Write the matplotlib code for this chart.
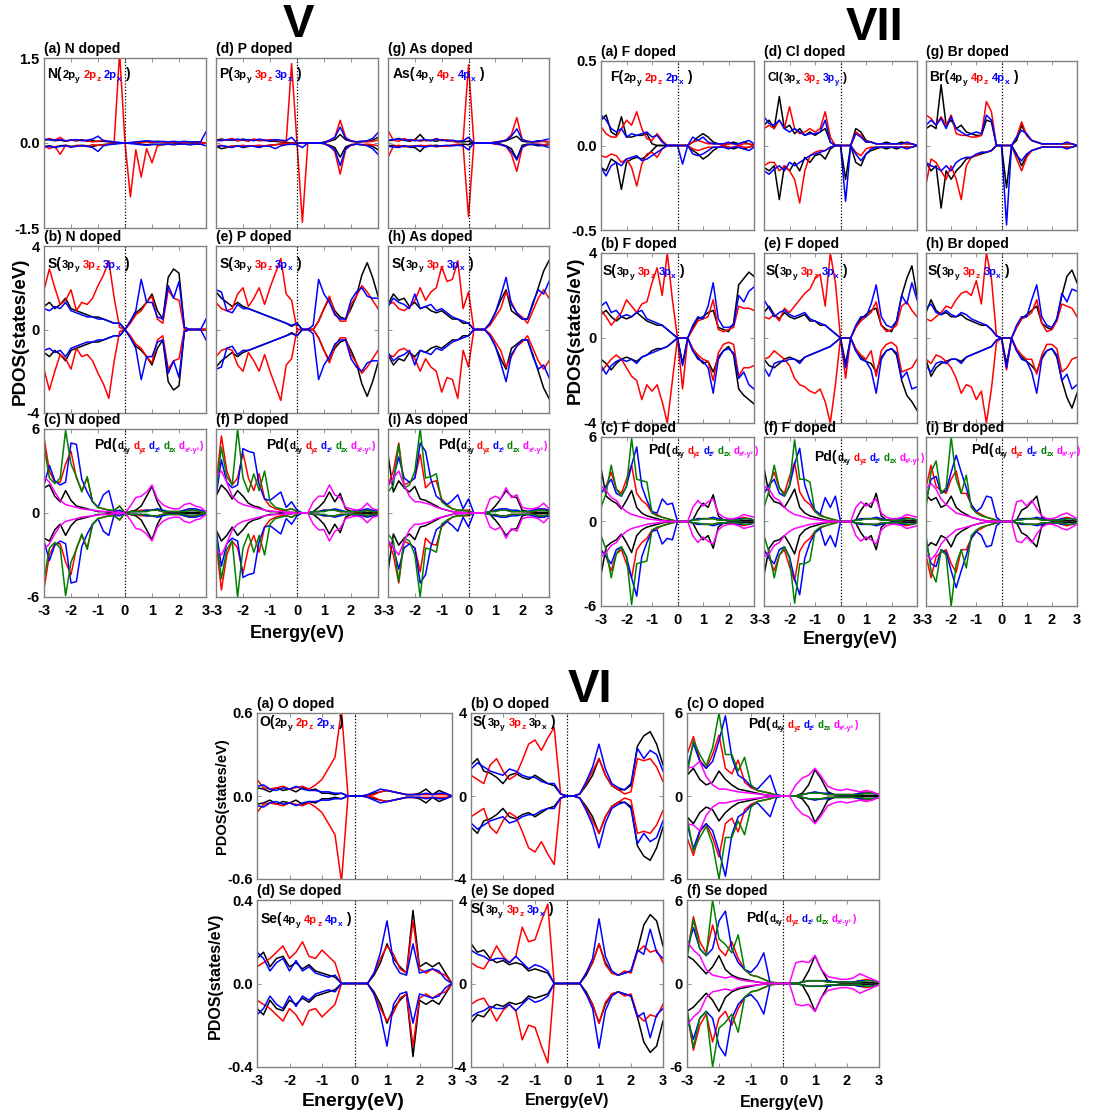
import matplotlib
matplotlib.use("Agg")
import matplotlib.pyplot as plt
from matplotlib.transforms import offset_copy

plt.rcParams['font.family'] = ['Liberation Sans Narrow', 'Liberation Sans', 'DejaVu Sans']
plt.rcParams['font.weight'] = 'bold'

# --- Data: energy grid (eV) and PDOS ---
E = [-3.0, -2.8, -2.6, -2.4, -2.2, -2.0, -1.8, -1.6, -1.4, -1.2, -1.0, -0.8, -0.6, -0.4, -0.2,
     0.0, 0.2, 0.4, 0.6, 0.8, 1.0, 1.2, 1.4, 1.6, 1.8, 2.0, 2.2, 2.4, 2.6, 2.8, 3.0]

# group V, dopant p states (black py, red pz, blue px), spin up / spin down
n_p_up = [
    [.05,.06,.04,.05,.03,.05,.04,.06,.03,.04,.03,.03,.02,.01,0,0,0,0,.02,.03,.02,.03,.02,.02,.01,.02,.02,.01,.02,.01,0],
    [.04,.08,.05,.1,.03,.06,.04,.05,.04,.02,.03,.05,.03,.02,1.6,0,0,0,.01,.02,.01,.02,.02,.01,.02,.02,.01,.02,.01,.01,0],
    [.07,.06,.05,.06,.04,.05,.06,.04,.05,.07,.12,.04,.03,.02,.01,0,.01,.02,.03,.04,.03,.02,.03,.02,.03,.02,.03,.02,.02,.02,.2]]
n_p_dn = [
    [-.06,-.05,-.07,-.05,-.04,-.06,-.05,-.04,-.05,-.06,-.04,-.03,-.02,-.01,0,0,0,0,-.02,-.03,-.02,-.03,-.02,-.02,-.02,-.01,-.02,-.02,-.01,-.02,0],
    [-.05,-.1,-.06,-.2,-.04,-.08,-.04,-.05,-.06,-.03,-.04,-.03,-.02,-.01,0,0,-.95,-.12,-.6,-.1,-.35,-.05,-.03,-.02,-.03,-.02,-.02,-.03,-.02,-.01,0],
    [-.07,-.06,-.08,-.06,-.05,-.07,-.06,-.05,-.06,-.08,-.15,-.05,-.03,-.02,-.01,0,-.01,-.02,-.03,-.04,-.03,-.02,-.03,-.02,-.03,-.02,-.02,-.03,-.02,-.02,-.05]]
p_p_up = [
    [.05,.07,.05,.06,.04,.07,.05,.06,.04,.05,.03,.03,.02,.01,0,0,0,0,0,0,.01,.03,.06,.15,.06,.03,.02,.02,.03,.05,.1],
    [.03,.05,.06,.08,.04,.05,.03,.07,.05,.04,.06,.05,.03,.02,1.4,0,0,0,0,0,.01,.04,.1,.4,.1,.03,.02,.03,.02,.03,.05],
    [.06,.04,.06,.05,.07,.05,.06,.04,.07,.05,.04,.06,.05,.04,.1,0,0,0,0,0,.01,.05,.1,.28,.08,.04,.02,.03,.04,.08,.18]]
p_p_dn = [
    [-.06,-.1,-.08,-.06,-.05,-.08,-.06,-.05,-.07,-.05,-.04,-.03,-.02,-.01,0,0,0,0,0,0,-.01,-.04,-.08,-.25,-.07,-.03,-.02,-.03,-.04,-.06,-.12],
    [-.05,-.04,-.07,-.05,-.06,-.04,-.06,-.05,-.04,-.05,-.04,-.03,-.02,-.01,0,0,-1.4,0,0,0,-.01,-.05,-.15,-.55,-.12,-.03,-.02,-.03,-.02,-.03,-.05],
    [-.07,-.05,-.06,-.08,-.05,-.07,-.05,-.06,-.08,-.05,-.06,-.1,-.05,-.03,-.02,-.03,-.08,0,0,0,-.01,-.06,-.12,-.4,-.1,-.04,-.02,-.03,-.05,-.1,-.2]]
as_p_up = [
    [.04,.05,.08,.05,.03,.06,.15,.04,.05,.03,.06,.04,.03,.02,.02,.03,0,0,0,0,.01,.02,.04,.08,.12,.03,.02,.02,.04,.03,.02],
    [.22,.05,.03,.08,.04,.06,.03,.05,.04,.08,.04,.06,.03,.02,.05,1.38,0,0,0,0,.02,.03,.05,.15,.45,.06,.03,.02,.02,.03,.02],
    [.05,.06,.07,.05,.06,.04,.05,.06,.04,.07,.05,.04,.05,.03,.04,.1,0,0,0,0,.01,.03,.05,.12,.25,.06,.03,.02,.03,.05,.07]]
as_p_dn = [
    [-.05,-.04,-.06,-.05,-.07,-.08,-.15,-.05,-.05,-.04,-.06,-.05,-.04,-.03,-.02,-.03,0,0,0,0,-.01,-.02,-.05,-.1,-.28,-.04,-.02,-.03,-.05,-.04,-.03],
    [-.25,-.06,-.04,-.07,-.05,-.06,-.04,-.05,-.04,-.07,-.05,-.06,-.04,-.02,-.05,-1.3,0,0,0,0,-.02,-.03,-.06,-.2,-.5,-.08,-.03,-.02,-.02,-.03,-.02],
    [-.06,-.07,-.08,-.05,-.07,-.05,-.06,-.07,-.05,-.06,-.05,-.04,-.05,-.04,-.05,-.12,0,0,0,0,-.01,-.03,-.06,-.15,-.3,-.07,-.03,-.02,-.03,-.05,-.08]]

# group V, S 3p states (spin down mirrors spin up)
n_s_up = [
    [1.1,1.3,1.0,1.2,1.5,1.0,0.9,0.8,0.7,0.6,0.6,0.5,0.4,0.3,0.3,0,0.4,0.8,1.0,1.3,1.7,0.9,0.5,2.5,2.9,2.7,0.1,0,0,0,0],
    [1.9,2.9,2.0,1.2,1.4,1.9,0.9,1.3,1.2,1.5,2.1,2.6,3.3,1.5,0.1,0,0.3,0.7,0.9,1.3,1.6,0.5,0.3,1.9,1.5,1.4,0,0,0,0,0],
    [1.0,0.9,1.1,1.0,1.3,0.9,0.8,0.7,0.6,0.6,0.5,0.5,0.4,0.3,0.3,0,0.4,0.9,2.4,1.3,1.3,0.6,0.5,2.1,1.5,2.3,0.1,0,0,0,0.5]]
p_s_up = [
    [1.8,1.5,1.3,1.1,1.3,1.1,1.0,0.9,0.8,0.7,0.6,0.5,0.4,0.3,0.15,0.3,0,0,0,0.4,1.0,1.5,0.9,0.6,0.5,1.0,1.6,2.6,3.2,2.5,1.6],
    [1.3,1.0,0.9,1.0,1.7,2.0,1.1,1.5,2.0,1.2,2.0,2.7,3.4,1.7,1.4,0,0,0,0,0.4,1.0,1.6,0.8,0.4,0.4,1.2,1.6,2.1,1.8,1.4,1.0],
    [1.9,1.8,0.9,0.8,1.2,1.0,1.0,0.9,0.8,0.7,0.6,0.5,0.4,0.3,0.2,0.3,0,0,0.2,2.4,1.7,1.3,0.7,0.5,0.5,1.4,1.8,2.0,1.6,1.5,1.5]]
as_s_up = [
    [1.2,1.7,1.4,1.5,1.1,1.3,1.0,1.1,0.9,0.8,0.9,0.7,0.5,0.5,0.3,0.3,0,0,0,0.3,0.8,1.4,1.9,0.9,0.7,0.5,0.5,1.2,2.0,2.8,3.3],
    [1.2,1.3,1.0,0.9,1.1,1.4,2.0,1.4,1.8,2.0,3.0,2.3,2.4,3.3,1.0,1.8,0,0,0,0.2,0.6,1.0,1.8,1.3,0.8,0.6,0.3,0.9,1.5,1.9,1.5],
    [1.1,1.5,1.3,1.2,1.0,1.7,1.0,1.1,1.2,0.9,1.0,0.8,0.6,0.5,0.4,0.3,0,0,0,0.3,0.8,1.6,2.5,1.2,0.8,0.5,0.5,1.3,1.9,1.7,2.3]]

# group V, Pd d states (black dxy, red dyz, blue dz2, green dzx, magenta dx2-y2)
n_d_up = [
    [1.8,2.0,1.2,0.8,1.6,0.9,0.5,0.4,0.3,0.2,0.1,0.1,0.05,0.05,0.05,0,0.1,0.2,0.5,1.2,1.9,0.8,0.1,0.05,0.05,0.05,0.05,0.05,0.05,0.05,0],
    [5.4,3.0,2.2,2.2,3.5,4.4,2.5,1.6,2.5,0.8,0.4,0.3,0.2,0.15,0.5,0,0.1,0.1,0.2,0.2,0.2,0.2,0.1,0.1,0.1,0.1,0.2,0.3,0.2,0.1,0],
    [2.0,3.4,2.3,2.0,2.2,5.0,4.9,2.4,1.5,0.8,0.4,1.3,1.6,0.1,0.2,0,0.1,0.1,0.1,0.2,0.2,0.3,0.2,0.1,0.1,0.1,0.2,0.3,0.3,0.2,0.1],
    [4.8,2.5,2.1,2.5,5.9,3.5,2.6,1.5,2.6,0.8,0.4,0.3,0.2,0.2,0.5,0,0.1,0.1,0.1,0.1,0.2,0.2,0.1,0.1,0.1,0.1,0.1,0.2,0.2,0.1,0],
    [2.6,2.2,1.5,0.9,0.6,0.5,0.4,0.3,0.25,0.2,0.15,0.1,0.1,0.05,0.05,0,0.5,1.1,1.2,1.5,2.0,1.0,0.6,0.4,0.3,0.3,0.6,0.7,0.5,0.4,0.1]]
p_d_up = [
    [1.2,2.0,1.6,1.0,1.6,1.2,0.7,0.5,0.4,0.2,0.1,0.1,0.05,0.05,0.05,0,0,0,0.1,0.4,0.8,1.5,0.8,1.4,0.3,0.1,0.05,0.05,0.05,0.05,0],
    [2.0,5.5,3.0,2.0,2.5,4.3,2.5,1.6,2.8,1.0,0.5,0.3,0.2,0.2,0.3,0.1,0,0,0.1,0.1,0.2,0.2,0.2,0.1,0.1,0.1,0.1,0.1,0.2,0.1,0.1],
    [1.2,3.8,2.2,1.8,2.0,4.6,4.4,4.3,2.0,1.0,0.9,1.2,1.5,0.4,0.8,0.2,0,0,0.1,0.1,0.2,0.2,0.3,0.2,0.1,0.1,0.2,0.2,0.3,0.2,0.2],
    [1.5,4.7,2.6,2.0,6.0,2.5,1.5,2.8,1.6,3.0,0.8,0.4,0.3,0.2,0.3,0.1,0,0,0.1,0.1,0.1,0.2,0.2,0.1,0.1,0.1,0.1,0.1,0.2,0.1,0.1],
    [2.6,3.0,2.2,1.2,0.8,0.6,0.5,0.4,0.3,0.2,0.15,0.1,0.1,0.05,0.05,0,0,0,0.8,1.2,1.2,2.0,1.3,1.1,0.4,0.3,0.2,0.3,0.7,0.3,0.2]]
as_d_up = [
    [4.2,1.5,2.3,1.8,1.5,1.9,1.0,0.9,0.7,0.5,0.3,0.2,0.1,0.05,0.05,0,0,0,0,0.1,0.5,1.0,1.6,1.2,1.1,0.2,0.1,0.05,0.05,0.05,0],
    [2.0,3.0,5.0,2.0,2.2,2.5,4.2,1.8,2.2,2.3,1.0,0.6,0.3,0.2,0.2,0.2,0,0,0,0.1,0.2,0.2,0.2,0.1,0.1,0.1,0.1,0.1,0.2,0.3,0.1],
    [2.0,2.5,4.0,2.5,2.2,2.5,5.0,4.4,2.4,1.2,0.9,0.6,0.9,1.3,0.3,1.0,0,0,0,0.1,0.2,0.3,0.3,0.2,0.2,0.1,0.1,0.2,0.3,0.3,0.2],
    [1.5,2.0,4.9,1.8,2.0,3.0,6.0,2.5,2.6,2.8,0.8,0.5,0.3,0.2,0.2,0.1,0,0,0,0.1,0.1,0.2,0.2,0.1,0.1,0.1,0.1,0.1,0.2,0.2,0.1],
    [1.9,2.5,3.0,2.0,1.2,0.8,0.8,0.7,0.6,0.4,0.3,0.2,0.1,0.05,0.05,0,0,0,0,1.0,1.2,1.0,1.8,1.1,1.3,0.4,0.3,0.3,0.4,0.7,0.3]]

# group VII, dopant p states
f_p_up = [
    [.15,.18,.08,.06,.17,.05,.05,.06,.06,.07,.01,0,0,0,0,0,0,0,.02,.05,.07,.05,.02,.01,0,.01,.02,.01,.02,.01,0],
    [.11,.07,.05,.05,.1,.15,.12,.2,.1,.04,.03,.07,.03,0,0,0,0,0,.02,.03,.02,.01,.01,.01,0,.01,.01,0,.01,.01,0],
    [.18,.15,.1,.08,.1,.05,.07,.06,.07,.08,.05,.06,.02,0,0,0,0,0,.05,.03,.05,.02,.01,.01,.01,.02,.01,.01,.02,.03,.01]]
f_p_dn = [
    [-.13,-.15,-.08,-.1,-.26,-.1,-.08,-.07,-.08,-.06,-.03,0,0,0,0,0,0,0,-.03,-.05,-.08,-.06,-.03,-.01,-.01,-.01,-.02,-.01,-.02,-.01,0],
    [-.06,-.07,-.05,-.06,-.1,-.08,-.13,-.24,-.11,-.05,-.04,-.07,-.02,0,0,0,0,0,-.02,-.03,-.02,-.01,-.01,-.01,0,-.01,-.01,0,-.01,-.01,0],
    [-.13,-.18,-.12,-.1,-.12,-.08,-.07,-.06,-.09,-.08,-.06,-.04,-.02,0,0,0,-.11,0,-.05,-.06,-.05,-.03,-.01,-.01,-.01,-.02,-.01,-.01,-.02,-.03,-.01]]
cl_p_up = [
    [.12,.15,.1,.29,.1,.12,.07,.1,.06,.08,.06,.08,.1,.02,0,0,0,0,.1,.08,.03,.02,.01,.01,.02,.01,.01,.02,.01,.01,0],
    [.1,.12,.1,.15,.1,.23,.1,.07,.08,.1,.08,.1,.2,.05,0,0,0,0,.08,.06,.02,.02,.01,.01,.01,.01,.01,.01,.01,.01,0],
    [.17,.13,.12,.15,.1,.08,.1,.08,.06,.07,.07,.08,.15,.02,0,0,0,0,.07,.05,.02,.02,.01,.01,.01,.01,.01,.01,.02,.01,0]]
cl_p_dn = [
    [-.13,-.15,-.12,-.32,-.12,-.15,-.1,-.15,-.07,-.1,-.06,-.05,-.08,-.02,0,0,-.2,0,-.1,-.12,-.05,-.03,-.02,-.01,-.02,-.01,-.02,-.01,-.01,-.01,0],
    [-.12,-.1,-.1,-.15,-.12,-.15,-.2,-.34,-.15,-.06,-.04,-.03,-.03,-.01,0,0,0,0,-.04,-.06,-.02,-.01,-.01,-.01,-.01,-.01,-.01,-.01,-.01,-.01,0],
    [-.15,-.17,-.14,-.12,-.15,-.1,-.12,-.1,-.08,-.06,-.05,-.04,-.03,-.01,0,0,-.33,0,-.05,-.09,-.05,-.02,-.01,-.01,-.01,-.01,-.01,-.01,-.02,-.01,0]]
br_p_up = [
    [.1,.12,.1,.36,.12,.15,.1,.12,.08,.07,.06,.06,.15,.14,0,0,0,0,.03,.12,.06,.03,.02,.01,.01,.01,.01,.01,.01,.01,0],
    [.18,.16,.12,.17,.12,.18,.07,.06,.06,.05,.05,.06,.26,.2,0,0,0,0,.05,.14,.06,.03,.02,.01,.01,.01,.01,.01,.01,.01,0],
    [.12,.15,.12,.16,.1,.17,.1,.08,.06,.07,.08,.07,.18,.15,0,0,0,0,.05,.09,.07,.03,.02,.01,.01,.01,.01,.01,.02,.01,0]]
br_p_dn = [
    [-.1,-.15,-.12,-.37,-.15,-.2,-.15,-.12,-.08,-.07,-.06,-.05,-.04,-.03,0,0,-.25,0,-.05,-.12,-.06,-.03,-.02,-.01,-.01,-.01,-.01,-.01,-.01,-.01,0],
    [-.23,-.08,-.1,-.15,-.2,-.12,-.2,-.32,-.12,-.07,-.06,-.04,-.04,-.03,0,0,0,0,-.08,-.15,-.07,-.03,-.02,-.01,-.01,-.01,-.01,-.01,-.01,-.01,0],
    [-.1,-.12,-.13,-.15,-.12,-.15,-.1,-.08,-.07,-.07,-.05,-.04,-.04,-.03,0,0,-.47,0,-.06,-.09,-.05,-.03,-.02,-.01,-.01,-.01,-.01,-.01,-.02,-.01,0]]

# group VII, S 3p states
f_s_up = [
    [1.1,1.3,1.0,0.8,1.0,0.9,1.0,1.2,1.0,0.8,0.7,0.6,0.6,0.4,0.2,0,0,0,0.5,0.9,1.0,1.2,1.3,0.5,0.4,0.3,0.7,2.5,2.8,3.1,2.9],
    [1.3,1.0,0.6,0.9,1.2,1.8,1.5,1.2,1.6,1.7,2.6,3.3,2.0,4.0,1.8,0,0,0,0.4,0.8,0.9,1.0,1.8,0.4,0.3,0.4,0.5,1.5,1.4,1.4,1.3],
    [1.5,1.7,1.2,1.3,1.0,1.1,1.0,1.2,1.3,0.9,0.8,0.7,0.6,0.4,0.2,0,0,0,0.6,1.0,0.9,1.5,2.6,0.9,0.5,0.5,0.6,2.0,1.7,2.2,2.4]]
f_s_dn = [
    [-1.0,-1.2,-1.5,-1.2,-1.0,-0.9,-1.0,-1.1,-0.9,-0.8,-0.6,-0.5,-0.5,-0.4,-0.2,0,-1.2,0,-0.6,-0.9,-1.2,-1.1,-1.6,-0.9,-0.6,-0.4,-0.8,-2.4,-2.7,-2.9,-3.1],
    [-1.6,-1.3,-1.0,-0.8,-1.0,-1.4,-1.8,-2.0,-2.9,-2.2,-2.5,-2.2,-3.0,-4.0,-2.0,0,-2.4,0,-0.5,-0.8,-1.0,-1.1,-2.0,-0.7,-0.3,-0.2,-0.3,-1.8,-1.4,-1.4,-1.3],
    [-1.3,-1.7,-1.3,-1.1,-1.0,-1.1,-1.0,-1.2,-0.9,-0.8,-0.7,-0.6,-0.5,-0.4,-0.2,0,-1.3,0,-0.6,-1.0,-1.1,-1.4,-2.6,-1.0,-0.6,-0.5,-0.7,-1.9,-1.6,-2.2,-2.4]]
f2_s_up = [
    [1.2,1.5,1.1,0.9,1.2,1.0,0.9,1.0,1.1,0.8,0.8,0.6,0.6,0.4,0.2,0,0,0,0.5,0.9,1.1,1.3,1.4,0.6,0.4,0.3,0.8,2.0,2.8,3.4,2.0],
    [1.0,0.9,1.1,0.8,1.4,1.2,1.5,1.8,2.1,2.3,2.8,3.0,1.5,4.0,2.6,0,0,0,0.5,0.8,1.0,1.2,1.7,0.6,0.3,0.4,0.6,1.5,1.7,1.3,1.0],
    [1.8,1.4,1.0,1.2,1.3,1.1,1.0,1.1,1.2,0.9,0.8,0.7,0.6,0.4,0.2,0,0,0,0.6,1.0,1.0,1.6,2.5,1.0,0.6,0.5,0.8,2.0,1.6,2.6,1.8]]
f2_s_dn = [
    [-1.0,-1.3,-1.4,-1.2,-1.0,-0.9,-1.0,-1.1,-0.9,-0.8,-0.7,-0.6,-0.5,-0.4,-0.2,0,-1.2,0,-0.6,-0.9,-1.1,-1.2,-1.6,-0.9,-0.6,-0.5,-0.8,-2.0,-2.7,-3.0,-3.4],
    [-1.0,-0.9,-0.6,-0.8,-1.0,-1.3,-1.9,-2.2,-2.3,-2.5,-2.6,-2.4,-3.0,-4.0,-2.2,0,-1.9,0,-0.5,-0.8,-1.0,-0.6,-1.8,-0.6,-0.3,-0.2,-0.4,-1.6,-1.5,-1.4,-1.0],
    [-1.4,-1.8,-1.2,-1.1,-1.1,-1.0,-1.0,-1.2,-0.9,-0.8,-0.7,-0.6,-0.5,-0.4,-0.2,0,-1.4,0,-0.6,-1.0,-1.1,-1.5,-2.6,-1.0,-0.6,-0.5,-0.7,-1.9,-1.6,-2.4,-2.3]]
br_s_up = [
    [1.2,1.8,1.3,1.1,1.2,1.0,1.0,1.1,0.9,0.8,0.7,0.6,0.6,0.4,0.1,0,0,0,0.5,0.9,1.1,1.3,1.5,0.7,0.5,0.4,0.9,2.0,2.9,3.2,2.6],
    [0.9,0.8,1.0,1.2,1.5,1.4,1.8,2.1,2.2,2.0,2.7,1.6,4.0,2.8,0.1,0,0,0,0.5,0.9,1.0,1.2,1.8,0.7,0.3,0.4,0.8,1.6,1.5,1.4,1.0],
    [1.4,1.6,1.2,1.1,1.3,1.1,1.0,1.2,1.1,0.9,0.8,0.7,0.6,0.4,0.1,0,0,0,0.6,1.0,1.0,1.8,2.5,1.0,0.6,0.5,0.9,2.1,1.7,2.3,2.2]]
br_s_dn = [
    [-1.0,-1.8,-1.4,-1.2,-1.1,-1.0,-1.0,-1.1,-0.9,-0.8,-0.7,-0.6,-0.5,-0.4,-0.1,0,-1.2,0,-0.6,-0.9,-1.1,-1.3,-1.6,-0.9,-0.6,-0.5,-0.9,-2.0,-2.8,-3.3,-2.6],
    [-1.0,-1.2,-0.8,-0.9,-1.1,-1.4,-1.9,-2.6,-2.2,-2.3,-2.9,-2.5,-4.0,-2.4,-0.2,0,-1.5,0,-0.5,-0.8,-1.0,-1.0,-1.7,-0.8,-0.3,-0.3,-0.5,-1.6,-1.4,-1.0,-0.9],
    [-1.3,-1.6,-1.2,-1.1,-1.2,-1.0,-1.0,-1.2,-0.9,-0.8,-0.7,-0.6,-0.5,-0.4,-0.1,0,-1.4,0,-0.6,-1.0,-1.1,-1.6,-2.6,-1.0,-0.6,-0.5,-0.8,-2.0,-1.7,-2.4,-2.2]]

# group VII, Pd d states (spin down mirrors spin up)
f_d_up = [
    [3.8,1.8,1.5,1.3,0.9,1.5,2.2,1.0,0.6,0.4,0.3,0.2,0.1,0.05,0.02,0,0,0,0.1,0.8,1.3,1.0,1.9,0.4,0.1,0.05,0.05,0.05,0.05,0.05,0.05],
    [2.0,2.5,3.5,2.3,2.0,3.0,4.0,2.0,1.5,1.2,0.6,0.5,0.3,0.2,0.1,0,0,0,0.1,0.2,0.2,0.2,0.2,0.1,0.1,0.1,0.1,0.2,0.3,0.2,0.1],
    [2.0,2.5,3.0,2.0,1.8,2.5,4.0,5.3,2.5,1.5,0.7,0.6,1.6,1.2,1.3,0,0,0,0.1,0.2,0.2,0.2,0.3,0.2,0.1,0.1,0.1,0.2,0.2,0.2,0.1],
    [1.0,2.0,4.0,2.3,1.8,2.5,5.9,3.0,2.9,2.8,0.6,0.4,0.3,0.2,0.1,0,0,0,0.1,0.1,0.2,0.2,0.2,0.1,0.1,0.1,0.1,0.1,0.2,0.2,0.1],
    [2.5,2.2,1.7,1.5,1.0,0.7,0.5,0.4,0.3,0.2,0.15,0.1,0.05,0.03,0.02,0,0,0,1.0,1.5,1.1,1.4,1.6,0.6,0.3,0.2,0.2,0.3,0.5,0.4,0.3]]
f2_d_up = [
    [3.8,1.9,1.4,1.3,1.0,1.6,2.3,1.0,0.6,0.4,0.3,0.2,0.1,0.05,0.02,0,0,0,0.1,0.8,1.3,1.0,2.0,0.4,0.1,0.05,0.05,0.05,0.05,0.05,0.05],
    [2.0,2.6,3.5,2.4,2.0,3.2,4.2,2.1,1.5,1.2,0.7,0.5,0.3,0.2,0.1,0,0,0,0.1,0.2,0.2,0.2,0.2,0.1,0.1,0.1,0.1,0.2,0.3,0.2,0.1],
    [2.0,2.6,3.0,2.0,1.8,2.5,4.1,5.2,2.6,1.5,0.8,0.5,1.7,1.0,1.8,0,0,0,0.1,0.2,0.2,0.2,0.3,0.2,0.1,0.1,0.1,0.2,0.2,0.2,0.1],
    [1.0,2.2,4.0,2.4,1.8,2.6,5.8,3.0,3.0,2.8,0.7,0.4,0.3,0.2,0.1,0,0,0,0.1,0.1,0.2,0.2,0.2,0.1,0.1,0.1,0.1,0.1,0.2,0.2,0.1],
    [2.5,2.3,1.7,1.5,1.0,0.7,0.5,0.4,0.3,0.2,0.15,0.1,0.05,0.03,0.02,0,0,0,1.0,1.4,1.1,1.3,1.6,0.6,0.3,0.2,0.2,0.3,0.5,0.4,0.3]]
br_d_up = [
    [1.9,1.5,1.7,1.0,1.2,1.8,1.0,0.7,0.5,0.3,0.2,0.1,0.05,0.03,0.02,0,0,0,0.1,0.8,1.0,1.4,1.8,0.3,0.1,0.05,0.05,0.05,0.05,0.05,0.05],
    [2.4,4.0,2.5,2.2,2.0,3.0,3.6,2.0,2.0,1.2,0.7,0.5,0.3,0.2,0.1,0,0,0,0.1,0.2,0.2,0.2,0.2,0.1,0.1,0.1,0.1,0.2,0.3,0.2,0.1],
    [1.5,3.0,3.2,2.0,2.2,3.5,4.7,3.5,2.4,1.2,0.7,1.0,1.8,1.7,0.3,0,0,0,0.1,0.2,0.2,0.2,0.3,0.2,0.1,0.1,0.1,0.2,0.2,0.2,0.1],
    [1.0,3.5,4.3,2.0,2.4,6.0,3.0,2.0,3.3,1.0,0.6,0.4,0.3,0.2,0.1,0,0,0,0.1,0.1,0.2,0.2,0.2,0.1,0.1,0.1,0.1,0.1,0.2,0.2,0.1],
    [2.3,2.7,2.3,1.6,1.2,0.9,0.6,0.5,0.4,0.3,0.2,0.1,0.05,0.03,0.02,0,0,0,1.4,1.5,1.1,1.5,0.9,0.4,0.2,0.2,0.3,0.5,0.6,0.4,0.2]]

# group VI (spin down mirrors spin up)
o_p_up = [
    [.06,.05,.03,.06,.04,.05,.03,.06,.04,.05,.02,.02,.01,.02,0,0,0,0,.02,.03,.04,.03,.02,.01,.01,.02,.05,.01,.04,.02,0],
    [.12,.06,.05,.06,.07,.05,.06,.07,.05,.08,.12,.2,.28,.62,0,0,0,0,.01,.03,.04,.03,.02,.01,.01,.01,.01,.01,.01,.01,0],
    [.07,.08,.05,.04,.06,.05,.07,.05,.04,.04,.03,.03,.02,.02,0,0,0,.01,.03,.05,.04,.03,.02,.01,.01,.01,.02,.01,.02,.02,0]]
se_p_up = [
    [.12,.15,.08,.12,.13,.08,.1,.07,.09,.06,.05,.04,.03,0,0,0,0,0,.04,.1,.19,.12,.08,.05,.35,.08,.1,.08,.1,.05,0],
    [.08,.1,.12,.15,.18,.12,.15,.2,.13,.12,.16,.13,.1,0,0,0,0,0,.05,.12,.18,.14,.07,.05,.3,.07,.05,.07,.05,.04,0],
    [.15,.12,.06,.1,.12,.06,.11,.06,.08,.05,.04,.03,.04,0,0,0,0,0,.05,.15,.3,.1,.05,.04,.19,.05,.06,.07,.06,.02,0]]
o_s_up = [
    [1.5,1.8,1.2,1.1,0.9,0.6,1.0,1.1,0.9,0.8,1.0,0.8,0.6,0.5,0.1,0,0,0.1,0.5,1.0,1.8,1.0,0.5,0.3,0.3,0.5,2.4,2.9,3.1,2.5,1.5],
    [1.0,0.8,0.6,1.5,1.8,1.2,0.8,1.0,1.7,2.5,2.7,2.2,2.8,3.3,0.1,0,0,0.1,0.6,1.2,1.8,1.0,0.5,0.3,0.1,0.2,1.8,1.7,1.8,1.4,0.7],
    [1.3,1.6,1.4,1.2,1.1,1.0,1.3,1.2,1.0,0.9,0.9,0.7,0.6,0.6,0.1,0,0,0.1,0.7,1.4,2.5,1.3,0.6,0.4,0.3,0.6,2.3,1.8,2.2,2.0,1.2]]
se_s_up = [
    [1.9,1.5,1.6,1.2,1.0,1.1,0.9,1.0,0.9,0.6,0.7,0.6,0.5,0,0,0,0,0,0.4,1.0,1.9,1.0,0.5,0.4,0.5,0.6,1.6,2.8,3.3,3.0,1.8],
    [1.0,0.8,0.7,1.2,1.8,1.3,1.0,1.3,2.7,2.0,2.1,3.0,3.8,0,0,0,0,0,0.5,1.0,1.9,0.9,0.5,0.4,0.6,0.5,1.5,1.8,1.5,1.6,1.0],
    [1.6,1.4,1.3,1.1,1.2,1.2,1.0,1.3,1.0,0.7,0.9,0.8,0.6,0,0,0,0,0,0.5,1.2,3.1,1.3,0.6,0.4,0.5,0.6,1.6,1.4,2.6,1.5,1.2]]
o_d_up = [
    [1.5,2.0,1.2,0.8,1.0,1.8,1.2,0.8,0.5,0.4,0.3,0.2,0.1,0.05,0.02,0,0,0,0.2,0.8,1.9,1.2,0.3,0.1,0.05,0.05,0.05,0.05,0.05,0.05,0],
    [3.0,4.3,2.6,2.0,3.0,4.4,2.0,1.6,2.6,1.0,0.6,0.4,0.3,0.2,0.05,0,0,0,0.1,0.2,0.2,0.2,0.1,0.1,0.1,0.1,0.1,0.2,0.3,0.2,0.1],
    [2.0,3.8,2.5,2.0,2.5,4.0,5.8,2.8,1.5,1.2,0.7,0.5,1.0,1.5,0.1,0,0,0,0.1,0.2,0.3,0.2,0.2,0.1,0.1,0.1,0.1,0.2,0.2,0.2,0.1],
    [1.5,4.0,3.0,2.2,3.5,6.0,3.0,3.0,1.8,2.8,0.8,0.4,0.3,0.2,0.05,0,0,0,0.1,0.2,0.2,0.2,0.1,0.1,0.1,0.1,0.1,0.1,0.2,0.2,0.1],
    [2.0,2.1,2.5,1.4,0.8,0.5,0.5,0.4,0.3,0.25,0.2,0.15,0.1,0.05,0.02,0,0,0.8,1.3,1.5,2.0,1.4,0.7,0.5,0.4,0.5,0.4,0.3,0.4,0.3,0.1]]
se_d_up = [
    [2.0,1.7,1.2,0.7,1.2,2.0,1.0,0.6,0.4,0.3,0.2,0.1,0.05,0.03,0.02,0,0,0,0.1,0.9,2.0,1.0,0.2,0.1,0.05,0.05,0.05,0.05,0.05,0.05,0],
    [2.0,4.8,3.0,2.2,4.2,2.5,2.0,3.0,1.8,1.0,0.6,0.5,0.3,0.1,0.05,0,0,0,0.1,0.2,0.2,0.2,0.1,0.1,0.1,0.1,0.1,0.2,0.3,0.2,0.1],
    [2.5,4.0,2.5,2.0,2.5,4.5,5.2,2.5,1.5,1.0,0.8,1.3,2.2,0,0,0,0,0,0.1,0.2,0.2,0.2,0.2,0.1,0.1,0.1,0.1,0.2,0.2,0.2,0.1],
    [1.8,4.6,2.5,2.0,6.0,3.2,2.8,2.2,3.5,1.0,0.6,0.5,0.3,0.1,0.05,0,0,0,0.1,0.2,0.2,0.2,0.1,0.1,0.1,0.1,0.1,0.1,0.2,0.2,0.1],
    [3.0,2.4,2.0,1.0,0.6,0.5,0.4,0.5,0.3,0.2,0.15,0.1,0.05,0.03,0.02,0,0,1.5,1.6,1.5,2.0,1.0,0.5,0.4,0.3,0.3,0.4,0.7,0.5,0.3,0.1]]

# --- Figure ---
W, H = 1107, 1114
fig = plt.figure(figsize=(W / 100, H / 100), dpi=100)

K, R, B, G, M = 'black', '#ff0000', '#0000ff', '#008000', '#ff00ff'
P_COLS = [K, R, B]
D_COLS = [K, R, B, G, M]


def ctext(ax, x, y, parts):
    # multi-coloured label: pieces (text, colour, size, dy, gap) set side by side
    rend = fig.canvas.get_renderer()
    dx = 0
    for s, c, fs, dy, gap in parts:
        tr = offset_copy(ax.transAxes, fig=fig, x=dx, y=dy, units='dots')
        t = ax.text(x, y, s, color=c, fontsize=fs, transform=tr,
                    va='baseline', ha='left', zorder=5)
        dx += t.get_window_extent(renderer=rend).width + gap


def p_parts(el, n, orb=('y', 'z', 'x'), cols=(K, R, B), big=10, small=8):
    parts = [(el + '(', K, big, 0, 0.5)]
    for o, c in zip(orb, cols):
        parts.append((n + 'p', c, small, 0, 0))
        parts.append((o, c, small - 2, -2.5, 3.5))
    parts.append((')', K, big, 0, 0))
    return parts


D_PARTS = [('Pd(', K, 10, 0, 0.5),
           ('d', K, 7, 0, 0), ('xy', K, 5, -2.5, 2.5),
           ('d', R, 7, 0, 0), ('yz', R, 5, -2.5, 2.5),
           ('d', B, 7, 0, 0), ('z²', B, 5, -2.5, 2.5),
           ('d', G, 7, 0, 0), ('zx', G, 5, -2.5, 2.5),
           ('d', M, 7, 0, 0), ('x²-y²', M, 5, -2.5, 0.5),
           (')', M, 7, 0, 0)]


def panel(box, lim, labs, up, dn, cols, title, legend, lpos, xt=False, yt=True):
    l, t, r, b = box
    ax = fig.add_axes([l / W, 1 - b / H, (r - l) / W, (b - t) / H])
    if dn is None:
        dn = [[-v for v in s] for s in up]
    for su, sd, c in zip(up, dn, cols):
        ax.plot(E, su, color=c, lw=1.1)
        ax.plot(E, sd, color=c, lw=1.1)
    ax.axvline(0, color='black', ls=(0, (1, 1.5)), lw=0.9)
    ax.set_xlim(-3, 3)
    ax.set_ylim(-lim, lim)
    ax.set_xticks(range(-3, 4))
    ax.set_yticks([-lim, 0, lim])
    ax.set_xticklabels([str(v) for v in range(-3, 4)] if xt else [])
    ax.set_yticklabels(labs if yt else [])
    ax.tick_params(direction='in', length=3, width=0.6, color='#808080',
                   top=True, right=True, labelsize=10.5)
    ax.tick_params(axis='x', pad=5)
    ax.tick_params(axis='y', pad=3)
    for sp in ax.spines.values():
        sp.set_color('#808080')
        sp.set_linewidth(1.0)
    ax.text(0.0, 1.01, title, transform=ax.transAxes, fontsize=10,
            va='bottom', ha='left')
    ctext(ax, lpos[0], lpos[1], legend)
    return ax


L15 = ['-1.5', '0.0', '1.5']
L4 = ['-4', '0', '4']
L6 = ['-6', '0', '6']
L05 = ['-0.5', '0.0', '0.5']
L06 = ['-0.6', '0.0', '0.6']
L04 = ['-0.4', '0.0', '0.4']

# group V
panel((44, 58, 206, 228), 1.5, L15, n_p_up, n_p_dn, P_COLS, '(a) N doped', p_parts('N', '2'), (0.02, 0.88))
panel((216, 58, 378, 228), 1.5, L15, p_p_up, p_p_dn, P_COLS, '(d) P doped', p_parts('P', '3'), (0.02, 0.88), yt=False)
panel((388, 58, 549, 228), 1.5, L15, as_p_up, as_p_dn, P_COLS, '(g) As doped', p_parts('As', '4'), (0.03, 0.88), yt=False)
panel((44, 246, 206, 413), 4, L4, n_s_up, None, P_COLS, '(b) N doped', p_parts('S', '3'), (0.02, 0.87))
panel((216, 246, 378, 413), 4, L4, p_s_up, None, P_COLS, '(e) P doped', p_parts('S', '3'), (0.02, 0.87), yt=False)
panel((388, 246, 549, 413), 4, L4, as_s_up, None, P_COLS, '(h) As doped', p_parts('S', '3'), (0.02, 0.87), yt=False)
panel((44, 429, 206, 597), 6, L6, n_d_up, None, D_COLS, '(c) N doped', D_PARTS, (0.31, 0.88), xt=True)
panel((216, 429, 378, 597), 6, L6, p_d_up, None, D_COLS, '(f) P doped', D_PARTS, (0.31, 0.88), xt=True, yt=False)
panel((388, 429, 549, 597), 6, L6, as_d_up, None, D_COLS, '(i) As doped', D_PARTS, (0.31, 0.88), xt=True, yt=False)

# group VII
panel((601, 61, 754, 230), 0.5, L05, f_p_up, f_p_dn, P_COLS, '(a) F doped', p_parts('F', '2'), (0.06, 0.88))
panel((764, 61, 917, 230), 0.5, L05, cl_p_up, cl_p_dn, P_COLS, '(d) Cl doped',
      p_parts('Cl', '3', orb=('x', 'z', 'y'), big=8.5, small=7.5), (0.02, 0.88), yt=False)
panel((926, 61, 1077, 230), 0.5, L05, br_p_up, br_p_dn, P_COLS, '(g) Br doped', p_parts('Br', '4'), (0.02, 0.88), yt=False)
panel((601, 253, 754, 423), 4, L4, f_s_up, f_s_dn, P_COLS, '(b) F doped', p_parts('S', '3'), (0.01, 0.87))
panel((764, 253, 917, 423), 4, L4, f2_s_up, f2_s_dn, P_COLS, '(e) F doped', p_parts('S', '3'), (0.01, 0.87), yt=False)
panel((926, 253, 1077, 423), 4, L4, br_s_up, br_s_dn, P_COLS, '(h) Br doped', p_parts('S', '3'), (0.01, 0.87), yt=False)
panel((601, 437, 754, 606), 6, L6, f_d_up, None, D_COLS, '(c) F doped', D_PARTS, (0.31, 0.9), xt=True)
panel((764, 437, 917, 606), 6, L6, f2_d_up, None, D_COLS, '(f) F doped', D_PARTS, (0.33, 0.86), xt=True, yt=False)
panel((926, 437, 1077, 606), 6, L6, br_d_up, None, D_COLS, '(i) Br doped', D_PARTS, (0.3, 0.9), xt=True, yt=False)

# group VI
panel((257, 713, 452, 879), 0.6, L06, o_p_up, None, P_COLS, '(a) O doped', p_parts('O', '2'), (0.01, 0.92))
panel((471, 713, 663, 879), 4, L4, o_s_up, None, P_COLS, '(b) O doped',
      p_parts('S', '3', cols=(K, R, K)), (0.01, 0.92))
panel((687, 713, 879, 879), 6, L6, o_d_up, None, D_COLS, '(c) O doped', D_PARTS, (0.32, 0.91))
panel((257, 900, 452, 1067), 0.4, L04, se_p_up, None, P_COLS, '(d) Se doped', p_parts('Se', '4'), (0.02, 0.86), xt=True)
panel((471, 900, 663, 1067), 4, L4, se_s_up, None, P_COLS, '(e) Se doped', p_parts('S', '3'), (0.0, 0.92), xt=True)
panel((687, 900, 879, 1067), 6, L6, se_d_up, None, D_COLS, '(f) Se doped', D_PARTS, (0.31, 0.87), xt=True)


def ftext(x, y, s, **kw):
    fig.text(x / W, 1 - y / H, s, ha='center', va='center', **kw)


ftext(298, 25, 'V', fontsize=34, fontweight='heavy')
ftext(875, 28, 'VII', fontsize=34, fontweight='heavy')
ftext(590, 690, 'VI', fontsize=34, fontweight='heavy')

ftext(20, 331, 'PDOS(states/eV)', fontsize=13.5, rotation=90)
ftext(575, 330, 'PDOS(states/eV)', fontsize=13.5, rotation=90)
ftext(222, 796, 'PDOS(states/eV)', fontsize=10.5, rotation=90)
ftext(215, 976, 'PDOS(states/eV)', fontsize=11.5, rotation=90)

ftext(297, 634, 'Energy(eV)', fontsize=13)
ftext(850, 640, 'Energy(eV)', fontsize=13)
ftext(353, 1102, 'Energy(eV)', fontsize=14)
ftext(567, 1101, 'Energy(eV)', fontsize=11.5)
ftext(782, 1103, 'Energy(eV)', fontsize=11.5)

fig.savefig('out.png', dpi=100)
